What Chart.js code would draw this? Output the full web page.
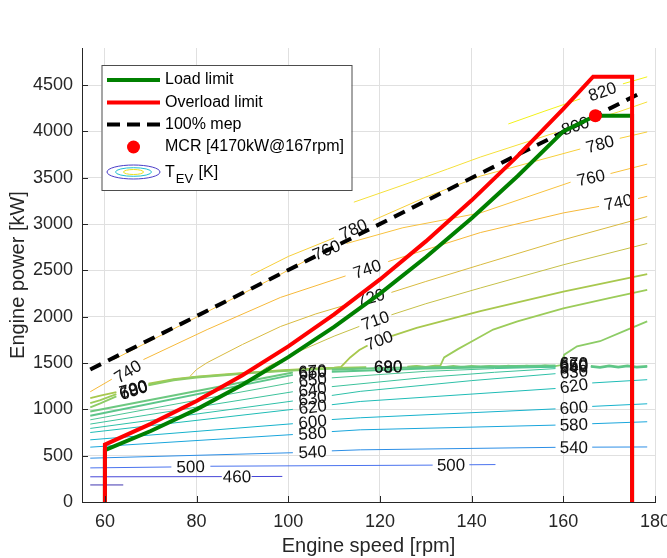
<!DOCTYPE html>
<html><head><meta charset="utf-8">
<script src="https://cdn.jsdelivr.net/npm/chart.js@4.4.1/dist/chart.umd.min.js"></script>
<style>html,body{margin:0;padding:0;background:#fff}</style>
</head><body>
<canvas id="c" width="667" height="558"></canvas>
<script>
// ---------- axis ticks ----------
const xTicks = [60, 80, 100, 120, 140, 160, 180];
const yTicks = [0, 500, 1000, 1500, 2000, 2500, 3000, 3500, 4000, 4500];

// ---------- limit curves [rpm, kW] ----------
const loadLimit = [[60,0],[60,560],[70,766],[80,1000],[90,1266],[100,1563],[110,1891],[120,2250],[130,2641],[140,3063],[150,3516],[160,4000],[167,4170],[175,4170],[175,0]];
const overloadLimit = [[60,0],[60,620],[70,843],[80,1089],[90,1368],[100,1680],[110,2025],[120,2402],[130,2813],[140,3256],[150,3733],[160,4242],[166.5,4590],[175,4590],[175,0]];
const mep100 = [[56.8,1430],[177.5,4430]];
const mcr = [[167,4170]];

// ---------- T_EV contour lines [rpm, kW], null = label gap ----------
const c440 = [[56.8,184],[64,184]];
const c460 = [[56.8,272],[85.5,274],null,[92,275],[98.7,276]];
const c500 = [[56.8,368],[74.5,378],null,[83,386],[131.5,398],null,[139.5,402],[145.2,404]];
const c540 = [[56.8,473],[101,532],null,[109.5,552],[115.7,563],[158.3,590],null,[166.3,592],[178.3,594]];
const c580 = [[56.8,592],[101,728],null,[109.5,760],[115.7,779],[158.3,830],null,[166.3,845],[178.3,866]];
const c600 = [[56.8,671],[101,845],null,[109.5,890],[115.7,909],[158.3,1005],null,[166.3,1032],[178.3,1060]];
const c620 = [[56.8,750],[101,1000],null,[109.5,1050],[115.7,1085],[158.3,1225],null,[166.3,1285],[178.3,1320]];
const c630 = [[56.8,794],[101,1090],null,[109.5,1150],[115.7,1194],[140,1310],[158.3,1385]];
const c640 = [[56.8,841],[101,1190],null,[109.5,1245],[130,1345],[145,1400],[158.3,1440]];
const c650 = [[56.8,887],[101,1290],null,[109.5,1340],[130,1410],[145,1440],[158.3,1455]];
const c660 = [[56.8,931],[101,1372],null,[109.5,1405],[130,1440],[145,1455],[158.3,1462],null,[166,1460],[168,1450],[170,1465],[172,1452],[174,1466],[176,1453],[178.3,1460]];
const c670 = [[56.8,977],[101,1398],null,[109.5,1428],[120,1445],[130,1455],[145,1465],[158.3,1472],null,[166,1468],[168,1457],[170,1472],[172,1459],[174,1473],[176,1460],[178.3,1468]];
const c680 = [[56.8,1021],[59,1065],[62.5,1140],null,[69.5,1258],[75,1312],[80,1342],[86,1366],[92,1390],[98,1410],[104,1426],[110,1440],[117,1450],null,[126,1455],[128,1464],[130,1452],[132,1466],[134,1455],[136,1468],[138,1456],[140,1470],[142,1458],[144,1469],[146,1457],[148,1471],[150,1460],[152,1472],[154,1461],[156,1474],[158,1463],[159.5,1478],[160.2,1590],[163,1680],[168,1735],[174,1861],[178.3,1950]];
const c690 = [[56.8,1068],[59,1100],[62.5,1165],null,[69.5,1268],[75,1320],[80,1350],[86,1372],[92,1396],[98,1416],[104,1432],[110,1446],[117,1456],null,[126,1462],[128,1470],[130,1459],[132,1472],[133.2,1475],[134,1560],[137,1650],[140.5,1745],[144.7,1861],[150,1950],[160,2090],[170,2200],[178.3,2290]];
const c700 = [[56.8,1122],[59,1148],[62.5,1185],null,[69.5,1278],[75,1326],[80,1354],[86,1378],[92,1400],[98,1420],[104,1436],[110,1450],[111.5,1458],[112.3,1500],[113.5,1560],[115.5,1640],[117.3,1690],null,[122.5,1790],[128,1880],[141.9,2060],[160,2270],[178.3,2460]];
const c710 = [[94,1408],[95.5,1460],[98,1520],[103,1640],[110,1790],[115.5,1895],null,[122.5,2020],[130,2140],[141.9,2310],[160,2560],[178.3,2790]];
const c720 = [[78.6,1358],[80,1430],[82.3,1504],[90,1700],[98.3,1894],[106,2030],[113.5,2140],null,[122.5,2262],[130,2380],[141.9,2560],[160,2830],[178.3,3080]];
const c740 = [[56.8,1190],[61.5,1325],null,[68.4,1537],[82.3,1861],[98.3,2208],[112.5,2440],null,[121.8,2595],[141.9,2908],[160,3120],[167.8,3190],null,[176.3,3275],[178.3,3300]];
const c760 = [[62,1540],[80,1995],[98.3,2457],[104,2610],null,[112.7,2790],[125,2960],[141.9,3120],[161.6,3452],null,[170.3,3545],[178.3,3647]];
const c780 = [[91.8,2446],[100,2650],[110,2850],null,[118.5,3040],[130,3290],[141.9,3517],[163.7,3810],null,[172.3,3925],[178.3,3994]];
const c800 = [[114.3,3236],[125,3420],[134.7,3593],[141.9,3723],[158.5,3990],null,[166.7,4130],[172,4210],[178.3,4318]];
const c820 = [[148,4080],[156,4220],[163.7,4351],null,[173,4513],[178.3,4589]];

const contourLevels = [440,460,500,540,580,600,620,630,640,650,660,670,680,690,700,710,720,740,760,780,800,820];
const contourLines  = [c440,c460,c500,c540,c580,c600,c620,c630,c640,c650,c660,c670,c680,c690,c700,c710,c720,c740,c760,c780,c800,c820];

// label: [level, rpm, kW]
const contourLabels = [
 [460,88.8,274],[500,78.7,381],[500,135.5,400],[540,105.3,541],[540,162.3,591],
 [580,105.3,743],[580,162.3,836],[600,105.3,869],[600,162.3,1018],[620,105.3,1025],[620,162.3,1255],
 [630,105.3,1118],[630,162.3,1405],[640,105.3,1215],[640,162.3,1455],[650,105.3,1318],[650,162.3,1472],
 [660,105.3,1398],[660,162.3,1488],[670,105.3,1413],[670,162.3,1500],
 [680,66.2,1205],[690,66.2,1215],[700,66.2,1222],[680,121.8,1458],[690,121.8,1462],
 [700,119.8,1745],[710,119,1960],[720,118,2208],[740,65,1410],[740,117.2,2515],[740,172,3236],
 [760,108.3,2720],[760,166,3500],[780,114.2,2944],[780,168,3864],[800,162.6,4060],[820,168.5,4430]
];

// ---------- styles ----------
const levelColor = {440:'#4036b0',460:'#4646d8',500:'#4a72ee',540:'#2c8ee6',580:'#1aa6dc',600:'#16b2cc',620:'#1fbcb6',630:'#2ec0a8',640:'#3cc29c',650:'#4cc494',660:'#5cc68a',670:'#6cc880',680:'#8ccc66',690:'#9ccc5a',700:'#a8c84e',710:'#c6c048',720:'#d9bb40',740:'#f6b93a',760:'#f8c23e',780:'#f7cf3a',800:'#f5e03a',820:'#f2f21a'};
const levelWidth = {660:2,670:2,680:1.8,690:1.8,700:1.8};
const FONT = "'Liberation Sans', Arial, sans-serif";
const AX = '#262626';

const toXY = pts => { const out = []; let lx = 0; for (const p of pts) { if (p) { out.push({x:p[0], y:p[1]}); lx = p[0]; } else out.push({x:lx, y:null}); } return out; };

const datasets = [];
datasets.push({label:'MCR', data: toXY(mcr), showLine:false, pointRadius:6.5, pointHoverRadius:6.5, backgroundColor:'#ff0000', borderWidth:0});
datasets.push({label:'Overload limit', data: toXY(overloadLimit), showLine:true, borderColor:'#ff0000', borderWidth:4, pointRadius:0, tension:0});
datasets.push({label:'Load limit', data: toXY(loadLimit), showLine:true, borderColor:'#008000', borderWidth:4, pointRadius:0, tension:0});
datasets.push({label:'100% mep', data: toXY(mep100), showLine:true, borderColor:'#000', borderWidth:4, borderDash:[12,8], pointRadius:0, tension:0});
const firstContour = datasets.length;
contourLines.forEach((pts, i) => {
  const lv = contourLevels[i];
  datasets.push({label:'T'+lv, data: toXY(pts), showLine:true, spanGaps:false, borderColor: levelColor[lv], borderWidth: levelWidth[lv] || 1, pointRadius:0, tension:0});
});

function labelAngle(pts, lx, xs, ys) {
  const nn = pts.filter(p => p);
  let p1 = null, p2 = null;
  for (const p of nn) { if (p[0] <= lx) p1 = p; else if (!p2) p2 = p; }
  if (!p1) { p1 = nn[0]; p2 = nn[1]; }
  if (!p2) { p1 = nn[nn.length-2]; p2 = nn[nn.length-1]; }
  const dx = xs.getPixelForValue(p2[0]) - xs.getPixelForValue(p1[0]);
  const dy = ys.getPixelForValue(p2[1]) - ys.getPixelForValue(p1[1]);
  return Math.atan2(dy, dx);
}

const contourLabelPlugin = {
  id: 'clabels',
  afterDatasetDraw(chart, args) {
    if (args.index !== firstContour) return;
    const xs = chart.scales.x, ys = chart.scales.y, ctx = chart.ctx;
    ctx.save();
    ctx.font = '17px ' + FONT;
    ctx.fillStyle = '#111';
    ctx.textAlign = 'center';
    ctx.textBaseline = 'middle';
    for (const [lv, lx, ly] of contourLabels) {
      const pts = contourLines[contourLevels.indexOf(lv)];
      const a = labelAngle(pts, lx, xs, ys);
      ctx.save();
      ctx.translate(xs.getPixelForValue(lx), ys.getPixelForValue(ly));
      ctx.rotate(a);
      ctx.fillText(String(lv), 0, 1);
      ctx.restore();
    }
    ctx.restore();
  }
};

const ticksPlugin = {
  id: 'inticks',
  afterDraw(chart) {
    const {ctx, chartArea:a} = chart; const xs = chart.scales.x, ys = chart.scales.y;
    ctx.save(); ctx.strokeStyle = AX; ctx.lineWidth = 1;
    ctx.beginPath();
    xTicks.forEach(v => { const x = Math.round(xs.getPixelForValue(v)) + 0.5; ctx.moveTo(x, a.bottom); ctx.lineTo(x, a.bottom - 6); });
    yTicks.forEach(v => { const y = Math.round(ys.getPixelForValue(v)) + 0.5; ctx.moveTo(a.left, y); ctx.lineTo(a.left + 6, y); });
    ctx.stroke(); ctx.restore();
  }
};

const legendPlugin = {
  id: 'customLegend',
  afterDraw(chart) {
    const {ctx, chartArea:a} = chart;
    const L = a.left + 19.5, T = a.top + 17, W = 250, H = 125;
    ctx.save();
    ctx.fillStyle = '#fff'; ctx.fillRect(L, T, W, H);
    ctx.strokeStyle = '#4d4d4d'; ctx.lineWidth = 1; ctx.strokeRect(L + 0.5, T + 0.5, W, H);
    const x0 = L + 5.5, x1 = L + 58.5, tx = L + 63.5;
    const rows = [T + 15, T + 37.5, T + 59.5, T + 82, T + 107];
    ctx.lineCap = 'butt';
    ctx.lineWidth = 4;
    ctx.strokeStyle = '#008000'; ctx.beginPath(); ctx.moveTo(x0, rows[0]); ctx.lineTo(x1, rows[0]); ctx.stroke();
    ctx.strokeStyle = '#ff0000'; ctx.beginPath(); ctx.moveTo(x0, rows[1]); ctx.lineTo(x1, rows[1]); ctx.stroke();
    ctx.strokeStyle = '#000'; ctx.setLineDash([13,7]); ctx.beginPath(); ctx.moveTo(x0, rows[2]); ctx.lineTo(x1, rows[2]); ctx.stroke(); ctx.setLineDash([]);
    const cx = (x0 + x1) / 2;
    ctx.fillStyle = '#ff0000'; ctx.beginPath(); ctx.arc(cx, rows[3], 6.5, 0, Math.PI*2); ctx.fill();
    ctx.lineWidth = 1;
    [[26.5,7,'#4a3cc8'],[18,4.3,'#22c0d0'],[10,2.5,'#eee020']].forEach(([rx,ry,c]) => {
      ctx.strokeStyle = c; ctx.beginPath(); ctx.ellipse(cx, rows[4], rx, ry, 0, 0, Math.PI*2); ctx.stroke();
    });
    ctx.fillStyle = '#000'; ctx.textBaseline = 'middle'; ctx.textAlign = 'left';
    ctx.font = '16px ' + FONT;
    ctx.fillText('Load limit', tx, rows[0]);
    ctx.fillText('Overload limit', tx, rows[1]);
    ctx.fillText('100% mep', tx, rows[2]);
    ctx.fillText('MCR [4170kW@167rpm]', tx, rows[3]);
    ctx.textBaseline = 'alphabetic';
    const by = rows[4] + 5;
    ctx.fillText('T', tx, by);
    const tw = ctx.measureText('T').width;
    ctx.font = '13px ' + FONT;
    ctx.fillText('EV', tx + tw + 1, by + 6);
    const ew = ctx.measureText('EV').width;
    ctx.font = '16px ' + FONT;
    ctx.fillText(' [K]', tx + tw + 1 + ew + 1, by);
    ctx.restore();
  }
};

new Chart(document.getElementById('c'), {
  type: 'scatter',
  data: { datasets },
  options: {
    responsive: false, animation: false, devicePixelRatio: 1,
    layout: { padding: { top: 48, right: 12, left: 0, bottom: 0 } },
    plugins: { legend: { display: false }, tooltip: { enabled: false } },
    elements: { line: { borderJoinStyle: 'miter' } },
    scales: {
      x: {
        type: 'linear', min: 55, max: 180,
        afterBuildTicks: s => { s.ticks = xTicks.map(v => ({value: v})); },
        afterFit: s => { s.height = 56; s.paddingLeft = 0; s.paddingRight = 0; },
        ticks: { padding: 9, color: AX, font: { size: 18, family: FONT }, maxRotation: 0, autoSkip: false, callback: v => String(v) },
        grid: { color: '#e0e0e0', drawTicks: false },
        border: { display: true, color: AX, width: 1 },
        title: { display: true, text: 'Engine speed [rpm]', color: AX, font: { size: 20, family: FONT }, padding: { top: 0, bottom: 0 } }
      },
      y: {
        type: 'linear', min: 0, max: 4900,
        afterBuildTicks: s => { s.ticks = yTicks.map(v => ({value: v})); },
        afterFit: s => { s.width = 82; s.paddingTop = 0; s.paddingBottom = 0; },
        ticks: { padding: 9, color: AX, font: { size: 18, family: FONT }, autoSkip: false, callback: v => String(v) },
        grid: { color: '#e0e0e0', drawTicks: false },
        border: { display: true, color: AX, width: 1 },
        title: { display: true, text: 'Engine power [kW]', color: AX, font: { size: 20, family: FONT }, padding: { top: 6, bottom: 0 } }
      }
    }
  },
  plugins: [contourLabelPlugin, ticksPlugin, legendPlugin]
});
</script>
</body></html>
